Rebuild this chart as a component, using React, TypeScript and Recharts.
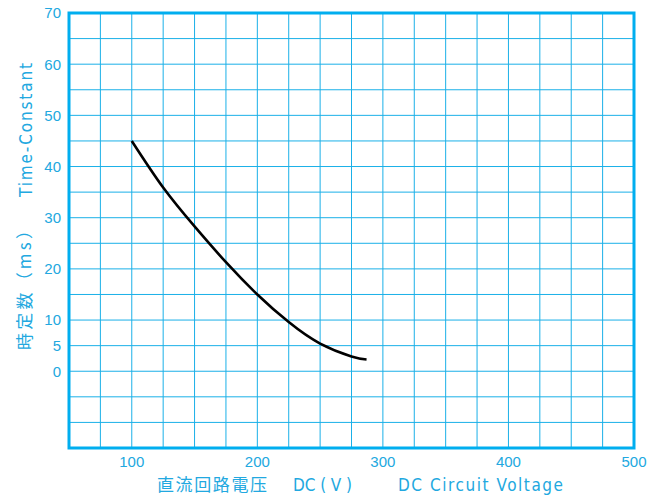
import React from 'react';
import { LineChart, Line, XAxis, YAxis, CartesianGrid, ReferenceArea } from 'recharts';

const voltage = [100, 125, 150, 175, 200, 225, 250, 275, 287];
const timeConstant = [45, 35.9, 28.3, 21.3, 15.0, 9.6, 5.4, 2.9, 2.3];

const xTicks = [50, 75, 100, 125, 150, 175, 200, 225, 250, 275, 300, 325, 350, 375, 400, 425, 450, 475, 500];
const xLabeled = [100, 200, 300, 400, 500];
const yTicks = [-15, -10, -5, 0, 5, 10, 15, 20, 25, 30, 35, 40, 45, 50, 55, 60, 65, 70];
const yLabeled = [0, 5, 10, 20, 30, 40, 50, 60, 70];

const data = voltage.map((v, i) => ({ v, t: timeConstant[i] }));

const BLUE = '#00aeef';
const GRID = '#1ab0e8';
const TEXT = '#22a8e0';

const W = 655;
const H = 497;
const M = { top: 13, right: 21, left: 0, bottom: 19 };
const YW = 69;
const XH = 30;

const latin = "'Liberation Sans Narrow', 'DejaVu Sans Condensed', 'Liberation Sans', sans-serif";
const cjk = "'Noto Sans CJK JP', 'Noto Sans CJK TC', sans-serif";

const XLabel = () => (
  <g fill={TEXT} fontSize={17}>
    <text x={157} y={491} fontFamily={cjk} textLength={110} lengthAdjust="spacing">直流回路電压</text>
    <text x={293} y={491} fontFamily={latin} textLength={59} lengthAdjust="spacing">DC ( V )</text>
    <text x={398} y={491} fontFamily={latin} textLength={165} lengthAdjust="spacing">DC Circuit Voltage</text>
  </g>
);

const YLabel = () => (
  <g fill={TEXT} fontSize={17}>
    <text transform="translate(31,350) rotate(-90)" fontFamily={cjk} textLength={128} lengthAdjust="spacing">時定数（ms）</text>
    <text transform="translate(32,197) rotate(-90)" fontFamily={latin} textLength={134} lengthAdjust="spacing">Time-Constant</text>
  </g>
);

export default function App() {
  return (
    <div style={{ position: 'absolute', left: 0, top: 0, width: W, height: H, background: '#fff' }}>
      <LineChart width={W} height={H} data={data} margin={M}>
        <CartesianGrid stroke={GRID} strokeWidth={1} />
        <XAxis
          dataKey="v"
          type="number"
          domain={[50, 500]}
          ticks={xTicks}
          interval={0}
          allowDataOverflow
          height={XH}
          tickLine={false}
          axisLine={false}
          tick={{ fill: TEXT, fontSize: 15, fontFamily: "'Liberation Sans', Arial, sans-serif" }}
          tickFormatter={(v: number) => (xLabeled.includes(v) ? String(v) : '')}
          label={{ content: () => <XLabel /> }}
        />
        <YAxis
          type="number"
          domain={[-15, 70]}
          ticks={yTicks}
          interval={0}
          allowDataOverflow
          width={YW}
          tickLine={false}
          axisLine={false}
          tick={{ fill: TEXT, fontSize: 15, fontFamily: "'Liberation Sans', Arial, sans-serif" }}
          tickFormatter={(v: number) => (yLabeled.includes(v) ? String(v) : '')}
          label={{ content: () => <YLabel /> }}
        />
        <ReferenceArea x1={50} x2={500} y1={-15} y2={70} fill="none" stroke={BLUE} strokeWidth={3} ifOverflow="visible" />
        <Line
          dataKey="t"
          type="natural"
          stroke="#000"
          strokeWidth={2.6}
          dot={false}
          isAnimationActive={false}
        />
      </LineChart>
    </div>
  );
}
